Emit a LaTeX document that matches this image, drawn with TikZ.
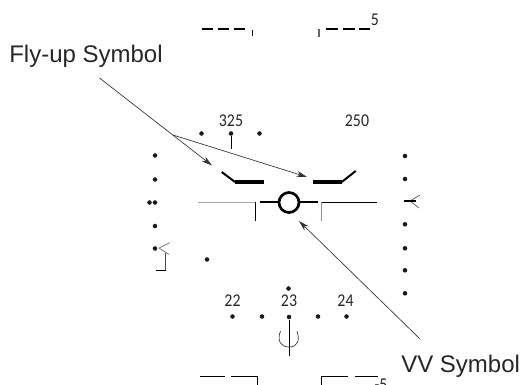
\documentclass[tikz,border=0pt]{standalone}
\usepackage{fontspec}
\setmainfont{Liberation Sans}
\newfontfamily\hudfont[FakeStretch=0.88]{Carlito}
\usetikzlibrary{arrows.meta}

\tikzset{
	hudtext/.style={font=\hudfont\fontsize{13.5}{13.5}\selectfont, text=black!85, inner sep=0pt},
	callout/.style={font=\fontsize{18}{20}\selectfont, text=black!85, inner sep=0pt, anchor=base west},
	leader/.style={black!80, line width=0.5pt, -{Stealth[length=8pt,width=4.5pt]}},
	hudline/.style={black, line width=0.6pt},
	hudgrey/.style={black!35, line width=1.2pt},
	hudbar/.style={black, line width=2.6pt},
	hudslant/.style={black, line width=1.5pt},
	dashbar/.style={black, line width=1.3pt},
	huddot/.style={circle, fill=black!90, inner sep=0pt, minimum size=3.4pt}
}

\begin{document}
\begin{tikzpicture}[x=0.75pt, y=-0.75pt]
	\useasboundingbox (0, 0) rectangle (522, 385);
	\clip (0, 0) rectangle (522, 385);

	% callouts
	\node[callout] (flyup) at (9, 63) {Fly-up Symbol};
	\node[callout] (vvlabel) at (401, 372) {VV Symbol};

	% numbers
	\node[hudtext] (alt) at (231, 121) {325};
	\node[hudtext] (speed) at (357, 121) {250};
	\node[hudtext] (hdg22) at (232.5, 301) {22};
	\node[hudtext] (hdg23) at (289, 301) {23};
	\node[hudtext] (hdg24) at (345.5, 301) {24};
	\node[hudtext] (pitchtop) at (375, 20) {5};
	\node[hudtext] (pitchlow) at (381, 384.5) {-5};

	% dots
	\foreach \name/\px/\py in {a1/201.5/133.5, a2/231/133.5, a3/259.5/133.5,
		l1/155/155.5, l2/155/179.5, l3/149.5/202.5, l4/155/202.5, l5/155/226, l6/155/248.5,
		r1/405/156, r2/405/179, r3/405/224.3, r4/405/248.3, r5/405/270.3, r6/405/293.3,
		m1/207/259.5, m2/288.5/288.5,
		h1/232.5/316.5, h2/262/316.5, h3/289/317, h4/318/316.5, h5/346.5/316.5}
		\node[huddot] (\name) at (\px, \py) {};

	% pitch ladder, top
	\draw[dashbar] (202, 29) -- (213, 29);
	\draw[dashbar] (218, 29) -- (229, 29);
	\draw[dashbar] (234, 29) -- (245, 29);
	\draw[black, line width=1.2pt] (252.5, 30) -- (252.5, 36.5);
	\draw[black!60, line width=0.8pt] (319, 29) -- (319, 37);
	\draw[dashbar] (326, 29) -- (338, 29);
	\draw[dashbar] (343, 29) -- (355, 29);
	\draw[dashbar] (359, 29) -- (370, 29);

	% pitch ladder, bottom
	\draw[hudline] (200, 376) -- (225, 376);
	\draw[hudline] (231, 376) -- (257.5, 376) -- (257.5, 385);
	\draw[hudline] (321.5, 385) -- (321.5, 376) -- (348, 376);
	\draw[hudline] (355, 376) -- (378, 376);

	% fly-up symbol
	\draw[hudslant] (221.7, 172) -- (235, 182);
	\draw[hudbar] (235, 182) -- (264, 182);
	\draw[hudbar] (313.3, 182) -- (341.7, 182);
	\draw[hudslant] (341.7, 182) -- (355.7, 171);

	% horizon
	\draw[hudgrey] (198, 202.7) -- (255, 202.7);
	\draw[hudline] (255.5, 202.3) -- (255.5, 220.7);
	\draw[hudline] (321.5, 202.5) -- (377, 202.5);
	\draw[black!45, line width=1pt] (321.5, 202) -- (321.5, 220.5);

	% velocity vector
	\node[circle, draw=black, line width=2pt, minimum size=15pt, inner sep=0pt] (vv) at (289, 202.5) {};
	\coordinate (vvleft) at (260, 202.5);
	\coordinate (vvright) at (318, 202.5);
	\draw[hudslant] (vvleft) -- (vv.west);
	\draw[hudslant] (vv.east) -- (vvright);

	% scale marks
	\draw[hudline] (a2) -- (231, 149);
	\draw[black!60, line width=0.5pt] (169.7, 242.7) -- (159, 248) -- (169, 254.5);
	\draw[black!70, line width=0.9pt] (165.7, 253) -- (165.7, 270.7);
	\draw[hudline] (165.7, 270.7) -- (156, 270.7);
	\draw[black!60, line width=0.6pt] (420, 195) -- (410, 201) -- (419, 208);
	\draw[black, line width=0.8pt] (404, 201) -- (415.7, 201);
	\draw[hudline] (h3) -- (289, 356);
	\draw[black!80, line width=0.5pt] (280.5, 331) .. controls (277, 340) and (280, 347) .. (289, 347) .. controls (298, 347) and (300, 340) .. (297, 331);

	% leaders
	\coordinate (fork) at (173, 135);
	\coordinate (flystart) at (99.5, 78);
	\coordinate (flyleft) at (212, 165.5);
	\coordinate (flyright) at (307, 177);
	\coordinate (vvstart) at (420, 339);
	\coordinate (vvtip) at (299, 221);
	\draw[leader] (flystart) -- (flyleft);
	\draw[leader] (fork) -- (flyright);
	\draw[leader] (vvstart) -- (vvtip);
\end{tikzpicture}
\end{document}
